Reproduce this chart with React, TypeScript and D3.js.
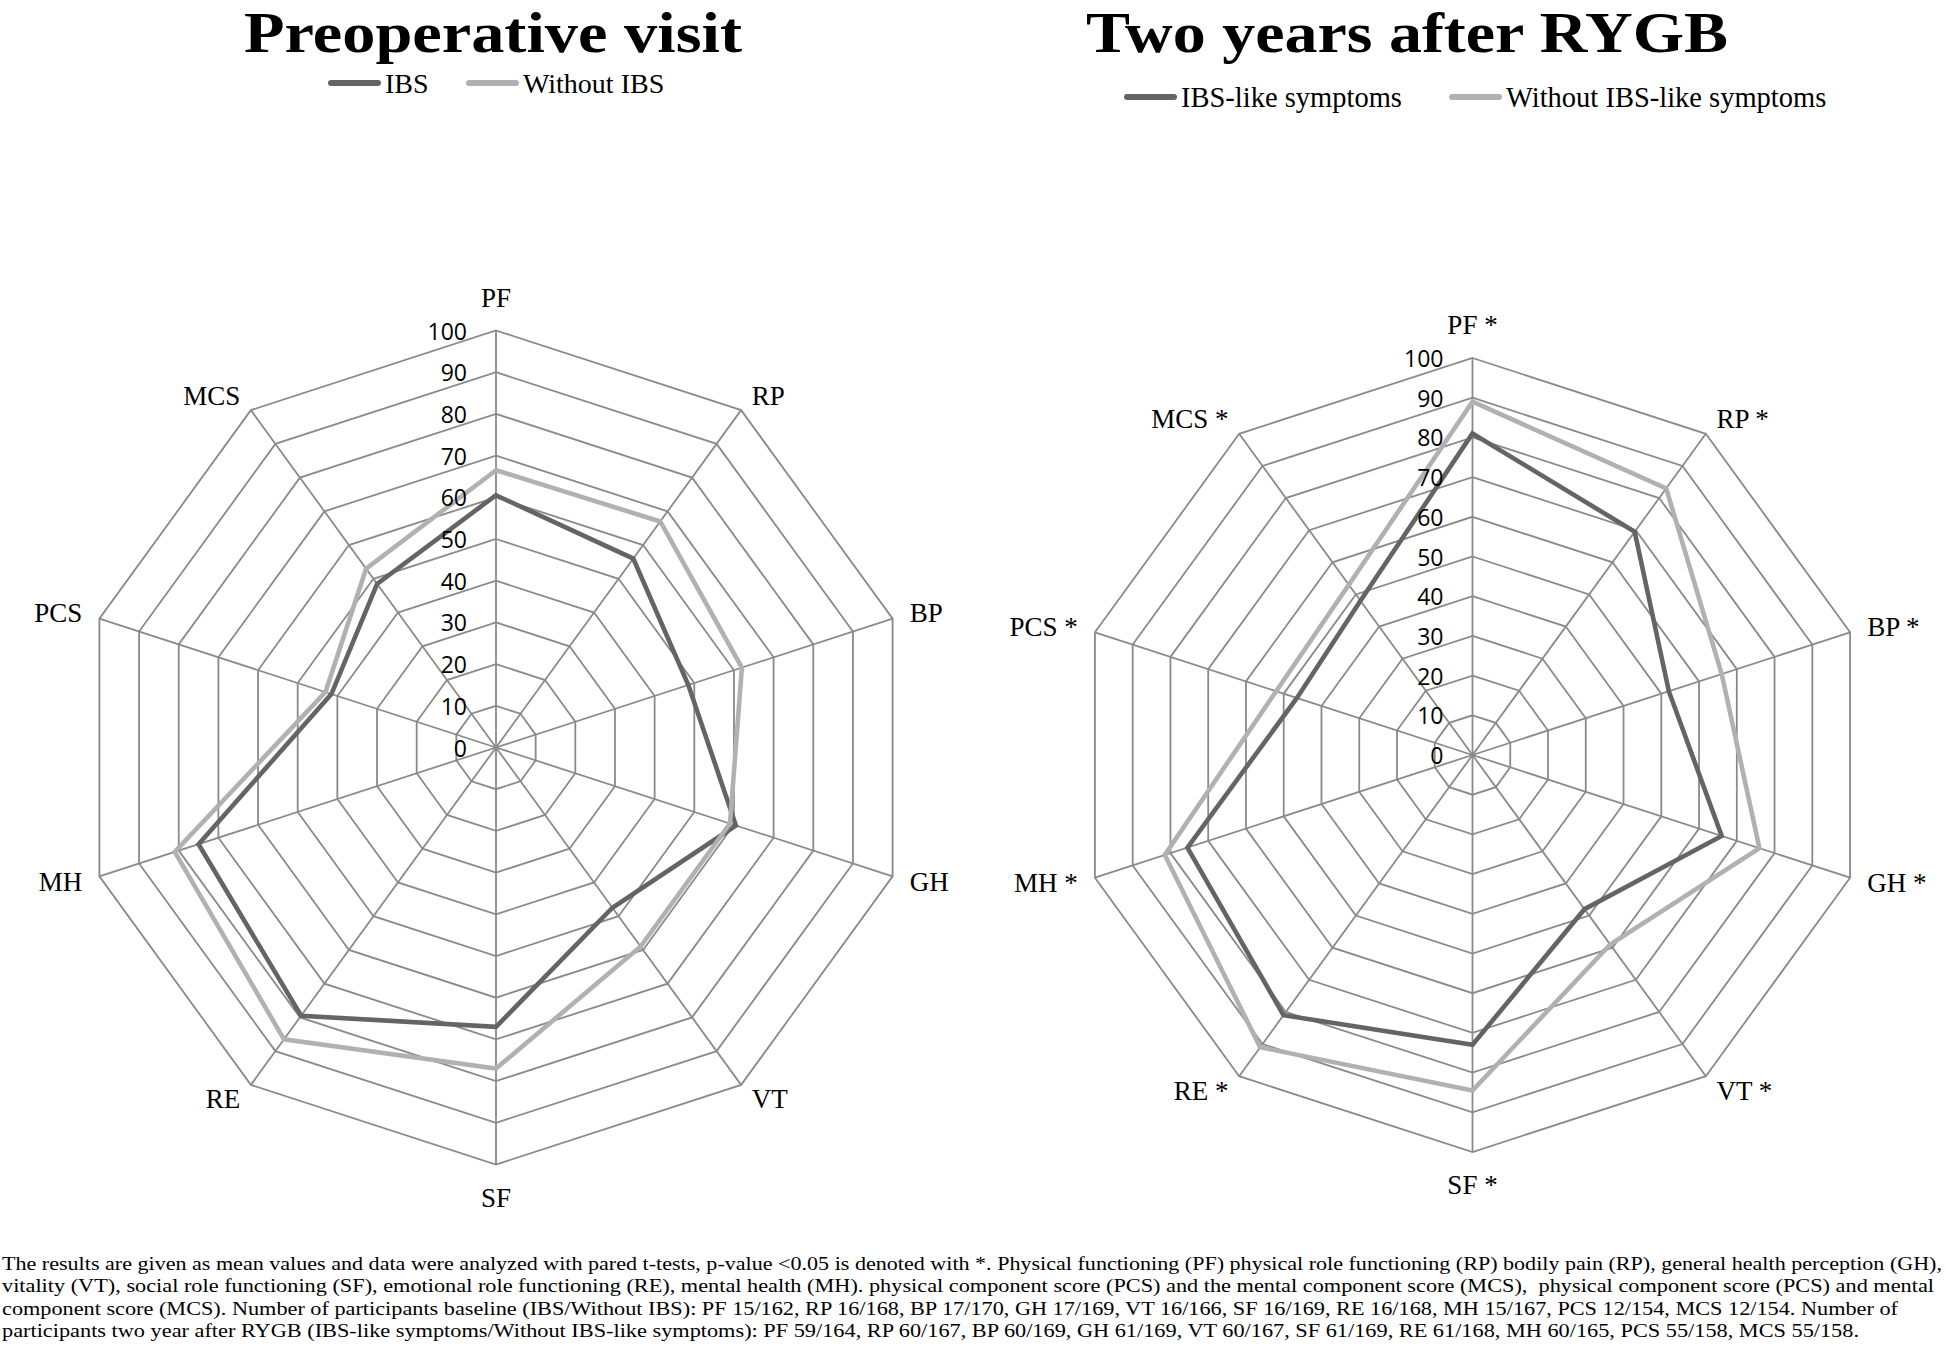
import React from 'react';
import * as d3 from 'd3';

// ---------- data ----------
const AXES_PRE = ['PF', 'RP', 'BP', 'GH', 'VT', 'SF', 'RE', 'MH', 'PCS', 'MCS'];
const AXES_POST = ['PF *', 'RP *', 'BP *', 'GH *', 'VT *', 'SF *', 'RE *', 'MH *', 'PCS *', 'MCS *'];

const PRE_IBS = [60.5, 56, 48.5, 60.5, 47.5, 67, 79.5, 75, 41.5, 48.5];
const PRE_WITHOUT_IBS = [66.5, 67, 62, 59, 59, 77, 86.5, 81, 43, 53];

const POST_IBS_LIKE = [81, 69.5, 52, 66, 48, 73, 81, 75.5, 46.5, 48];
const POST_WITHOUT_IBS_LIKE = [89, 83, 66, 76, 59, 84.5, 91, 81.5, 52, 53];

const TICKS = [0, 10, 20, 30, 40, 50, 60, 70, 80, 90, 100];

const TITLE_PRE = 'Preoperative visit';
const TITLE_POST = 'Two years after RYGB';
const LEGEND_PRE = ['IBS', 'Without IBS'];
const LEGEND_POST = ['IBS-like symptoms', 'Without IBS-like symptoms'];

const FOOTNOTE_LINES = [
  'The results are given as mean values and data were analyzed with pared t-tests, p-value <0.05 is denoted with *. Physical functioning (PF) physical role functioning (RP) bodily pain (RP), general health perception (GH),',
  'vitality (VT), social role functioning (SF), emotional role functioning (RE), mental health (MH). physical component score (PCS) and the mental component score (MCS),  physical component score (PCS) and mental',
  'component score (MCS). Number of participants baseline (IBS/Without IBS): PF 15/162, RP 16/168, BP 17/170, GH 17/169, VT 16/166, SF 16/169, RE 16/168, MH 15/167, PCS 12/154, MCS 12/154. Number of',
  'participants two year after RYGB (IBS-like symptoms/Without IBS-like symptoms): PF 59/164, RP 60/167, BP 60/169, GH 61/169, VT 60/167, SF 61/169, RE 61/168, MH 60/165, PCS 55/158, MCS 55/158.',
];
const FOOTNOTE_WIDTHS = [1940, 1932, 1896, 1857];

// ---------- styles ----------
const DARK = '#646464';
const LIGHT = '#b1b1b1';
const GRID = '#8a8a8a';
const SERIF = '"Liberation Serif", "Times New Roman", serif';
const SANS = '"Open Sans", "Noto Sans", sans-serif';

type Series = { values: number[]; color: string };

function Radar(props: {
  cx: number; cy: number; R: number; labels: string[]; series: Series[];
}) {
  const { cx, cy, R, labels, series } = props;
  const n = labels.length;
  const r = d3.scaleLinear().domain([0, 100]).range([0, R]);
  const angle = (i: number) => (i * 2 * Math.PI) / n;

  const ringPath = (v: number) =>
    d3.lineRadial<number>()
      .angle((_, i) => angle(i))
      .radius(() => r(v))
      .curve(d3.curveLinearClosed)(d3.range(n)) || '';

  const seriesPath = (vals: number[]) =>
    d3.lineRadial<number>()
      .angle((_, i) => angle(i))
      .radius((d) => r(d))
      .curve(d3.curveLinearClosed)(vals) || '';

  return (
    <g transform={`translate(${cx},${cy})`}>
      {TICKS.filter((t) => t > 0).map((t) => (
        <path key={'ring' + t} d={ringPath(t)} fill="none" stroke={GRID} strokeWidth={1.8} />
      ))}
      {d3.range(n).map((i) => {
        const a = angle(i);
        return (
          <line key={'spoke' + i} x1={0} y1={0}
            x2={r(100) * Math.sin(a)} y2={-r(100) * Math.cos(a)}
            stroke={GRID} strokeWidth={1.8} />
        );
      })}
      {series.map((s, k) => (
        <path key={'s' + k} d={seriesPath(s.values)} fill="none" stroke={s.color}
          strokeWidth={4.6} strokeLinejoin="miter" />
      ))}
      {TICKS.map((t) => (
        <text key={'tick' + t} x={-29} y={-r(t)} textAnchor="end" dominantBaseline="central"
          fontFamily={SANS} fontSize={23} fill="#000">{t}</text>
      ))}
      {labels.map((lab, i) => {
        const a = angle(i);
        const ux = Math.sin(a), uy = -Math.cos(a);
        const px = (r(100) + 18) * ux;
        let py = (r(100) + 18) * uy;
        let anchor: 'start' | 'middle' | 'end' = 'middle';
        if (Math.abs(ux) < 0.01) {
          py += Math.sign(uy) * 15;
        } else {
          anchor = ux > 0 ? 'start' : 'end';
        }
        return (
          <text key={'lab' + i} x={px} y={py} textAnchor={anchor} dominantBaseline="central"
            fontFamily={SERIF} fontSize={27} fill="#000">{lab}</text>
        );
      })}
    </g>
  );
}

function Legend(props: { items: { label: string; color: string; x: number }[]; y: number; size: number }) {
  const { items, y, size } = props;
  return (
    <g>
      {items.map((it, i) => (
        <g key={i}>
          <line x1={it.x + 3} x2={it.x + 50} y1={y} y2={y} stroke={it.color} strokeWidth={6} strokeLinecap="round" />
          <text x={it.x + 57} y={y} dominantBaseline="central" fontFamily={SERIF} fontSize={size} fill="#000">{it.label}</text>
        </g>
      ))}
    </g>
  );
}

export default function App() {
  return (
    <svg width={1946} height={1356} viewBox="0 0 1946 1356"
      style={{ position: 'absolute', left: 0, top: 0, background: '#fff' }}>
      <rect x={0} y={0} width={1946} height={1356} fill="#fff" />
      <text x={493} y={52} textAnchor="middle" fontFamily={SERIF} fontWeight="bold" fontSize={58}
        textLength={498} lengthAdjust="spacingAndGlyphs" fill="#000">{TITLE_PRE}</text>
      <text x={1407} y={52} textAnchor="middle" fontFamily={SERIF} fontWeight="bold" fontSize={58}
        textLength={642} lengthAdjust="spacingAndGlyphs" fill="#000">{TITLE_POST}</text>

      <Legend y={83} size={28} items={[
        { label: LEGEND_PRE[0], color: DARK, x: 328 },
        { label: LEGEND_PRE[1], color: LIGHT, x: 466 },
      ]} />
      <Legend y={97} size={28.5} items={[
        { label: LEGEND_POST[0], color: DARK, x: 1124 },
        { label: LEGEND_POST[1], color: LIGHT, x: 1449 },
      ]} />

      <Radar cx={496} cy={747.5} R={417} labels={AXES_PRE}
        series={[{ values: PRE_IBS, color: DARK }, { values: PRE_WITHOUT_IBS, color: LIGHT }]} />
      <Radar cx={1472.5} cy={755} R={397} labels={AXES_POST}
        series={[{ values: POST_IBS_LIKE, color: DARK }, { values: POST_WITHOUT_IBS_LIKE, color: LIGHT }]} />

      {FOOTNOTE_LINES.map((line, i) => (
        <text key={'fn' + i} x={2} y={1270 + i * 22.4} fontFamily={SERIF} fontSize={19.5}
          textLength={FOOTNOTE_WIDTHS[i]} lengthAdjust="spacingAndGlyphs" fill="#000"
          style={{ whiteSpace: 'pre' }}>{line}</text>
      ))}
    </svg>
  );
}
